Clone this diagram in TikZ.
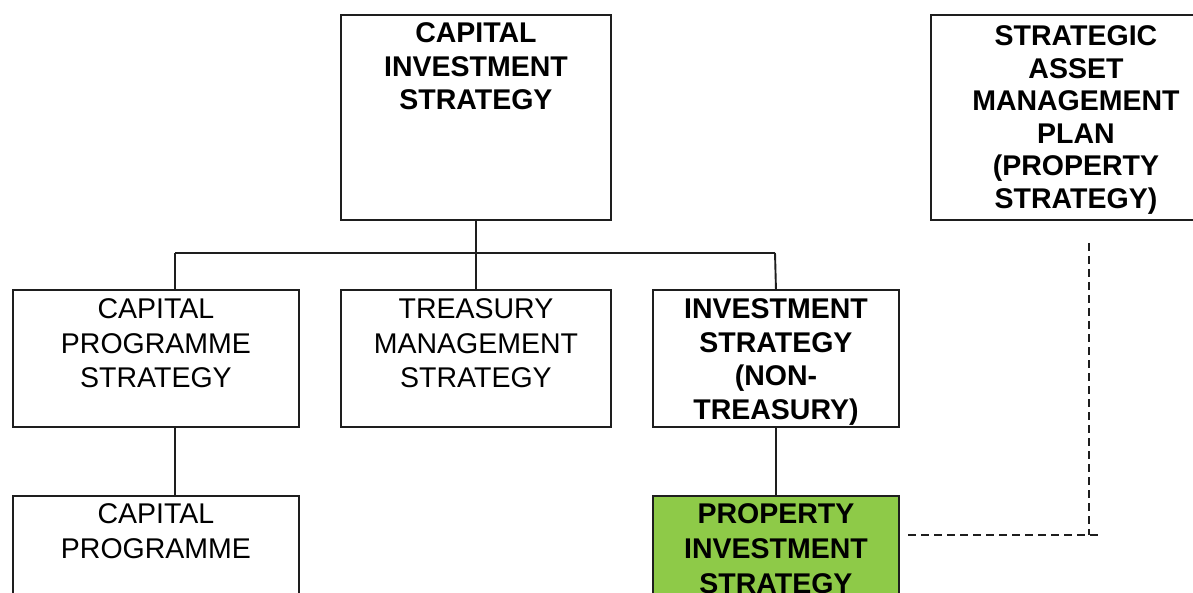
\documentclass[tikz,border=0pt]{standalone}
\usepackage{fontspec}
\setmainfont{Liberation Sans}
\definecolor{linegray}{RGB}{30,30,30}
\definecolor{propgreen}{RGB}{142,202,72}
% Box content: width, height, top padding, baseline skip, text
\newcommand\boxbody[5]{%
  \parbox[t][#2][t]{#1}{\centering\fontsize{28.5}{#4}\selectfont\vspace*{#3}#5\par}}
\begin{document}
\begin{tikzpicture}[x=1pt,y=-1pt,
  box/.style={draw=linegray, line width=1.9pt, inner sep=0pt, anchor=north west, fill=white},
  greenbox/.style={box, fill=propgreen},
  link/.style={draw=linegray, line width=1.9pt},
  dashlink/.style={draw=linegray, line width=1.8pt, dash pattern=on 8pt off 5pt}
]
\clip (0,0) rectangle (1193,593);
\fill[white] (0,0) rectangle (1193,593);

% top level
\node[box] (cis) at (340,14)
  {\boxbody{270pt}{205pt}{8pt}{33.5pt}{\bfseries CAPITAL\\INVESTMENT\\STRATEGY}};
\node[box] (sam) at (930,14)
  {\boxbody{290pt}{205pt}{11pt}{32.5pt}{\bfseries STRATEGIC\\ASSET\\MANAGEMENT\\PLAN\\(PROPERTY\\STRATEGY)}};

% second level
\node[box] (cps) at (12,289)
  {\boxbody{286pt}{137pt}{9pt}{34.5pt}{CAPITAL\\PROGRAMME\\STRATEGY}};
\node[box] (tms) at (340,289)
  {\boxbody{270pt}{137pt}{9pt}{34.5pt}{TREASURY\\MANAGEMENT\\STRATEGY}};
\node[box] (ist) at (652,289)
  {\boxbody{246pt}{137pt}{9pt}{33.5pt}{\bfseries INVESTMENT\\STRATEGY\\(NON-\\TREASURY)}};

% third level
\node[box] (cp) at (12,495)
  {\boxbody{286pt}{160pt}{8pt}{35pt}{CAPITAL\\PROGRAMME}};
\node[greenbox] (pis) at (652,495)
  {\boxbody{246pt}{160pt}{8pt}{35pt}{\bfseries PROPERTY\\INVESTMENT\\STRATEGY}};

% tree connectors
\coordinate (busL) at (175,253);
\coordinate (busR) at (775,253);
\draw[link] (cis.south) -- (cis.south |- busL);
\draw[link] (busL) -- (busR);
\draw[link] (busL) -- (busL |- cps.north);
\draw[link] (cis.south |- busL) -- (tms.north);
\draw[link] (busR) -- (ist.north);
\draw[link] (busL |- cps.south) -- (busL |- cp.north);
\draw[link] (ist.south) -- (pis.north);

% dashed relation between property strategies
\coordinate (samlink) at (1089,243);
\coordinate (pislink) at (908,535);
\coordinate (dashend) at (1102,535);
\draw[dashlink] (pislink) -- (dashend);
\draw[dashlink] (samlink) -- (samlink |- pislink);
\end{tikzpicture}
\end{document}
